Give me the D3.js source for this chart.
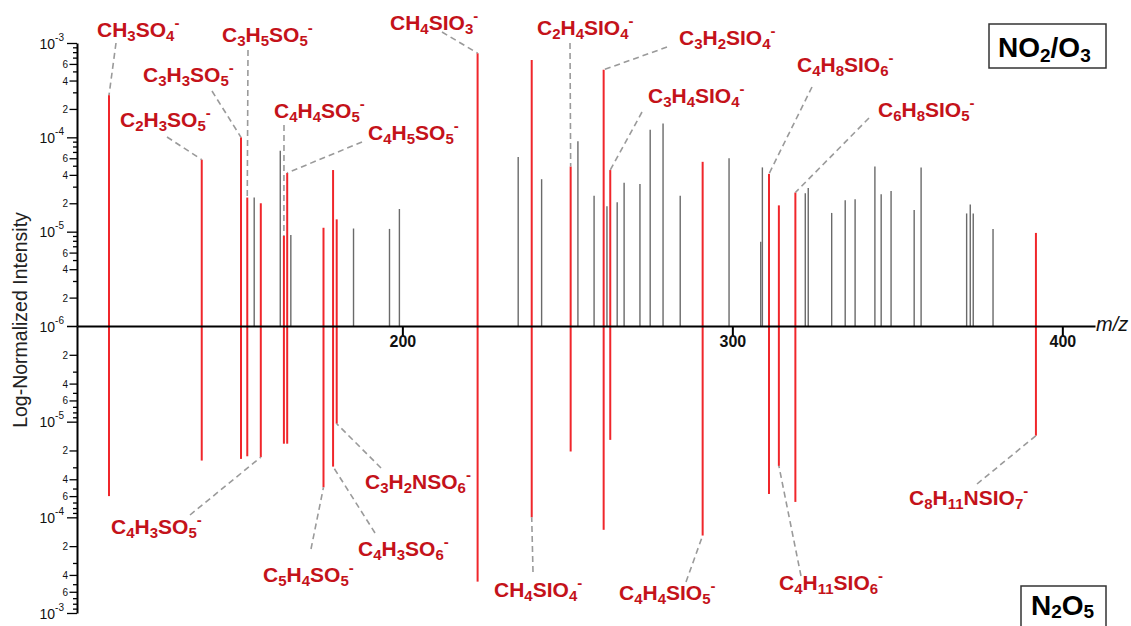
<!DOCTYPE html>
<html><head><meta charset="utf-8">
<script src="https://cdn.jsdelivr.net/npm/d3@7"></script>
<style>
body{margin:0;background:#fff}
svg{display:block}
text{font-family:"Liberation Sans",Arial,sans-serif}
</style>
</head><body>
<svg id="c" width="1131" height="626"></svg>
<script>
// ---------- DATA ----------
const formulas = ["CH3SO4-","C2H3SO5-","C3H3SO5-","C3H5SO5-","C4H3SO5-","C4H4SO5-","C4H5SO5-","C5H4SO5-","C4H3SO6-","C3H2NSO6-",
  "CH4SIO3-","CH4SIO4-","C2H4SIO4-","C3H2SIO4-","C3H4SIO4-","C4H4SIO5-","C4H8SIO6-","C4H11SIO6-","C6H8SIO5-","C8H11NSIO7-"];
const mzRed = [111.1,139.2,151.1,153.0,157.1,164.1,165.1,176.1,179.0,180.1,
  222.8,239.2,251.0,261.0,263.0,291.0,311.1,314.1,319.1,392.0];
const no2o3Red = [2.8e-4,5.8e-5,1.0e-4,2.3e-5,2.0e-5,9.0e-6,4.2e-5,1.1e-5,4.5e-5,1.35e-5,
  7.8e-4,6.6e-4,4.9e-5,5.2e-4,4.5e-5,5.5e-5,4.1e-5,1.9e-5,2.6e-5,9.7e-6];
const n2o5Red = [6.0e-5,2.55e-5,2.45e-5,2.3e-5,2.35e-5,1.7e-5,1.7e-5,4.85e-5,2.95e-5,1.05e-5,
  4.7e-4,1.0e-4,2.05e-5,1.35e-4,1.55e-5,1.55e-4,5.7e-5,2.9e-5,6.9e-5,1.4e-5];
const labelSide = ["top","top","top","top","bottom","top","top","bottom","bottom","bottom",
  "top","bottom","top","top","top","bottom","top","bottom","top","bottom"];

const mzGray = [155.1,163.0,166.2,185.2,196.1,199.1,235.1,242.2,253.2,258.1,262.0,265.1,267.2,272.0,275.1,279.0,284.2,299.0,
  308.6,309.1,322.1,323.0,330.1,334.2,337.2,343.2,345.1,348.1,355.1,357.2,371.0,372.1,373.0,379.0];
const no2o3Gray = [2.3e-5,7.2e-5,9.2e-6,1.08e-5,1.07e-5,1.74e-5,6.2e-5,3.6e-5,9.1e-5,2.4e-5,1.86e-5,2.05e-5,3.3e-5,3.2e-5,1.2e-4,1.4e-4,2.4e-5,6.0e-5,
  7.8e-6,4.8e-5,2.55e-5,2.9e-5,1.58e-5,2.15e-5,2.2e-5,4.9e-5,2.5e-5,2.7e-5,1.7e-5,4.8e-5,1.56e-5,1.94e-5,1.56e-5,1.07e-5];

const xTicks = [200,300,400];
const panelNames = ["NO2/O3","N2O5"];
const yTitle = "Log-Normalized Intensity";
const xTitle = "m/z";

// ---------- LAYOUT (annotation positions, not data) ----------
// [label x, label baseline y, leader start x, leader start y]
const labelLayout = [
  [97,37,116,43],[120,127,167,137],[143,82,212,91],[222,42,248,50],[111,534,190,515],
  [274,118,284,125],[368,140,362,142],[263,582,311,549],[358,556,375,533],[365,489,381,468],
  [390,30,442,32],[494,597,533,572],[537,35,570,43],[679,45,667,47],[648,103,642,112],
  [619,600,686,582],[797,72,812,87],[779,590,801,576],[878,117,869,118],[909,505,977,484]
];
const panelLayout = [[989,24,117,44,998,57],[1021,586,85,60,1031,615]];

// ---------- CHART ----------
const svg = d3.select("#c");
const x = d3.scaleLinear().domain([101.4, 409.9]).range([77, 1095]);
const yTop = d3.scaleLog().domain([1e-6, 1e-3]).range([326, 43]);
const yBot = d3.scaleLog().domain([1e-6, 1e-3]).range([326, 613]);

const RED = "#f0262b", LABEL = "#c4121a", GRAY = "#6a6a6a";

function logTicks(){
  const t = [];
  for (let e = -6; e < -3; e++) for (let k = 1; k < 10; k++) t.push(+(k*Math.pow(10,e)).toPrecision(3));
  t.push(1e-3);
  return t;
}
function decomp(d){
  const e = Math.floor(Math.log10(d) + 1e-9);
  return {e, k: Math.round(d/Math.pow(10,e))};
}

function drawY(scale, showBase){
  const g = svg.append("g").attr("transform","translate(77,0)")
    .call(d3.axisLeft(scale).tickValues(logTicks()).tickFormat("").tickSizeOuter(0));
  g.select(".domain").attr("stroke","#000").attr("stroke-width",2);
  g.selectAll(".tick line").attr("stroke","#000").attr("stroke-width",1.3)
    .attr("x2", d => { const {k} = decomp(d); return k===1 ? -10 : (k===2||k===4||k===6 ? -7.5 : -4); });
  g.selectAll(".tick").each(function(d){
    const {e,k} = decomp(d);
    const t = d3.select(this);
    if (k === 1){
      if (e === -6 && !showBase) return;
      const tx = t.append("text").attr("x",-13).attr("y",5).attr("text-anchor","end")
        .attr("fill","#111").attr("font-size",14);
      tx.append("tspan").text("10");
      tx.append("tspan").attr("dy",-8).attr("font-size",10).text(String(e).replace("−","-"));
    } else if (k===2||k===4||k===6){
      t.append("text").attr("x",-9).attr("y",3.5).attr("text-anchor","end")
        .attr("fill","#111").attr("font-size",10).text(k);
    }
  });
}

// bars: gray (NO2/O3 only)
svg.append("g").selectAll("line").data(mzGray).join("line")
  .attr("x1", d => x(d)).attr("x2", d => x(d))
  .attr("y1", yTop(1e-6)).attr("y2", (d,i) => yTop(no2o3Gray[i]))
  .attr("stroke", GRAY).attr("stroke-width", 1.4);

// red bars, up (NO2/O3) and down (N2O5)
svg.append("g").selectAll("line").data(mzRed).join("line")
  .attr("x1", d => x(d)).attr("x2", d => x(d))
  .attr("y1", yTop(1e-6)).attr("y2", (d,i) => yTop(no2o3Red[i]))
  .attr("stroke", RED).attr("stroke-width", 2);
svg.append("g").selectAll("line").data(mzRed).join("line")
  .attr("x1", d => x(d)).attr("x2", d => x(d))
  .attr("y1", yBot(1e-6)).attr("y2", (d,i) => yBot(n2o5Red[i]))
  .attr("stroke", RED).attr("stroke-width", 2);

// axes
drawY(yTop, true);
drawY(yBot, false);
const gx = svg.append("g").attr("transform","translate(0,326)")
  .call(d3.axisBottom(x).tickValues(xTicks).tickSize(10).tickSizeOuter(0));
gx.select(".domain").attr("stroke","#000").attr("stroke-width",2);
gx.selectAll(".tick line").attr("stroke","#000").attr("stroke-width",2);
gx.selectAll(".tick text").attr("y",21).attr("dy",0).attr("font-size",16).attr("font-weight","bold")
  .attr("fill","#111").attr("font-family","'Liberation Sans',Arial,sans-serif");

svg.append("text").attr("x",1096).attr("y",331).attr("font-size",20).attr("font-style","italic")
  .attr("fill","#111").text(xTitle);
svg.append("text").attr("transform","translate(27,320) rotate(-90)").attr("text-anchor","middle")
  .attr("font-size",19.5).attr("fill","#222").text(yTitle);

// rich text helper: digits as subscripts, trailing "-" as superscript
function rich(sel, str, big, small, subDy, supDy){
  const toks = str.match(/[A-Za-z\/]+|\d+|-$/g);
  let cur = 0;
  toks.forEach(t => {
    let target = 0, fs = big;
    if (/^\d+$/.test(t)) { target = subDy; fs = small; }
    else if (t === "-") { target = supDy; fs = small; }
    sel.append("tspan").attr("dy", target - cur).attr("font-size", fs).text(t);
    cur = target;
  });
}

// leader lines
svg.append("g").selectAll("line").data(mzRed).join("line")
  .attr("x1", (d,i) => labelLayout[i][2]).attr("y1", (d,i) => labelLayout[i][3])
  .attr("x2", d => x(d))
  .attr("y2", (d,i) => labelSide[i]==="top" ? yTop(no2o3Red[i]) : yBot(n2o5Red[i]))
  .attr("stroke","#9a9a9a").attr("stroke-width",1.6).attr("stroke-dasharray","6,4");

// labels
svg.append("g").selectAll("text").data(formulas).join("text")
  .attr("x", (d,i) => labelLayout[i][0]).attr("y", (d,i) => labelLayout[i][1])
  .attr("fill", LABEL).attr("font-weight","bold")
  .each(function(d){ rich(d3.select(this), d, 21, 15, 4, -9); });

// panel boxes
panelNames.forEach((p,i) => {
  const L = panelLayout[i];
  svg.append("rect").attr("x",L[0]).attr("y",L[1]).attr("width",L[2]).attr("height",L[3])
    .attr("fill","#fff").attr("stroke","#333").attr("stroke-width",1.5);
  const t = svg.append("text").attr("x",L[4]).attr("y",L[5]).attr("font-weight","bold").attr("fill","#000");
  rich(t, p, 28, 19, i === 1 ? 3 : 5, -10);
});
</script>
</body></html>
